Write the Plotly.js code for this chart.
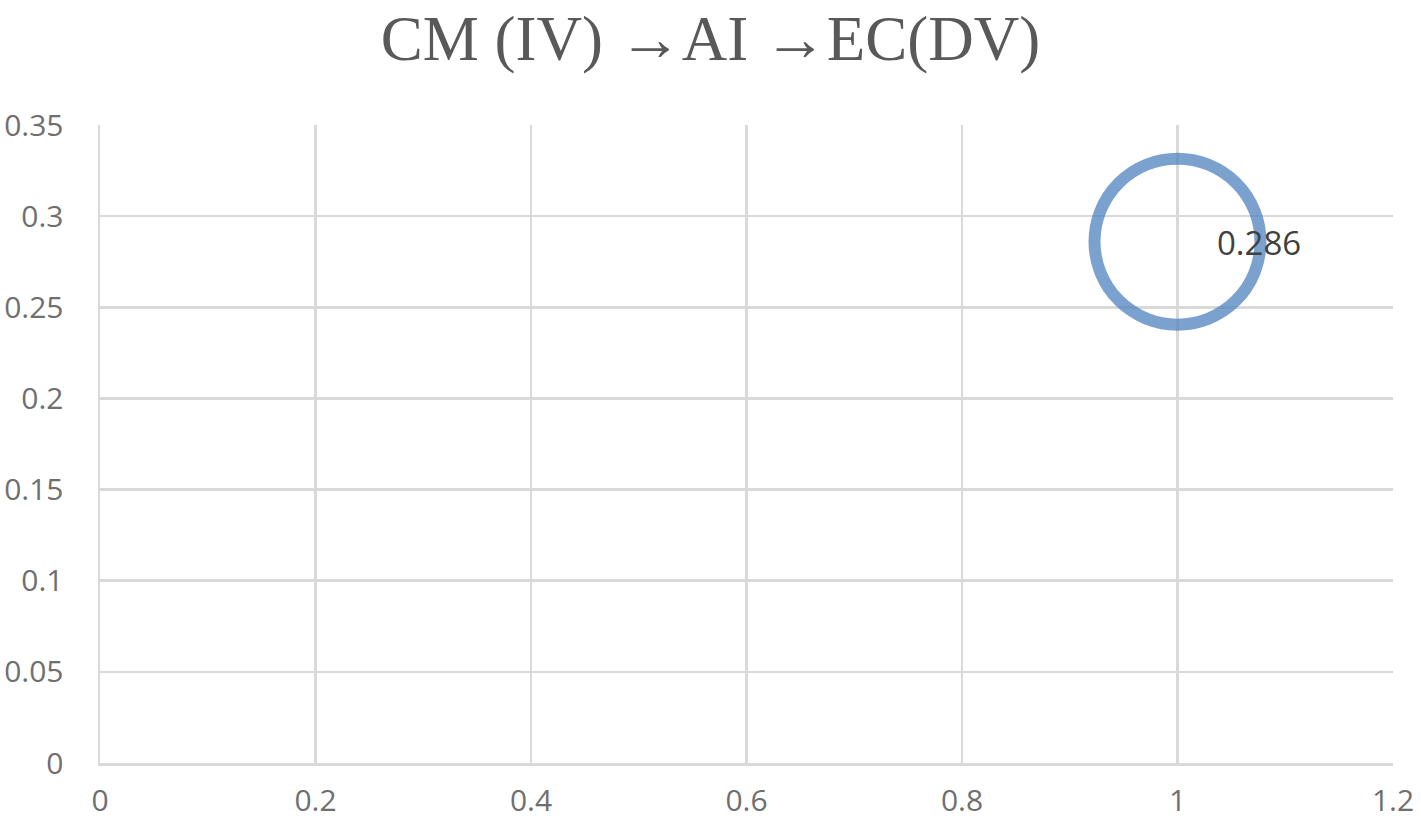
<!DOCTYPE html>
<html>
<head>
<meta charset="utf-8">
<script src="https://cdn.plot.ly/plotly-3.0.1.min.js"></script>
<style>html,body{margin:0;padding:0;background:#fff;}#chart{width:1421px;height:833px;}</style>
</head>
<body>
<div id="chart"></div>
<script>
const chartTitle = "CM (IV) \u2192AI \u2192EC(DV)";
const xValues = [1];
const yValues = [0.286];
const labels = ["0.286"];
const xTicks = [0, 0.2, 0.4, 0.6, 0.8, 1, 1.2];
const xTickText = ["0", "0.2", "0.4", "0.6", "0.8", "1", "1.2"];
const yTicks = [0, 0.05, 0.1, 0.15, 0.2, 0.25, 0.3, 0.35];
const yTickText = ["0", "0.05", "0.1", "0.15", "0.2", "0.25", "0.3", "0.35"];

const gridColor = "#d9d9d9";
const tickFont = {family: "Open Sans, sans-serif", size: 30, color: "#6f6f6f"};

const trace = {
  type: "scatter",
  mode: "markers",
  x: xValues,
  y: yValues,
  marker: {
    size: 166,
    color: "rgba(0,0,0,0)",
    line: {color: "rgba(79,129,189,0.75)", width: 12}
  },
  hoverinfo: "skip",
  cliponaxis: false
};

const layout = {
  width: 1421,
  height: 833,
  paper_bgcolor: "#fff",
  plot_bgcolor: "#fff",
  showlegend: false,
  margin: {l: 100, r: 28, t: 125, b: 70},
  title: {
    text: chartTitle,
    font: {family: "Liberation Serif, DejaVu Serif, serif", size: 63, color: "#595959"},
    x: 0.5, xanchor: "center",
    y: 0.981, yanchor: "top", yref: "container"
  },
  xaxis: {
    range: [0, 1.2],
    tickvals: xTicks,
    ticktext: xTickText,
    showgrid: true,
    gridcolor: gridColor,
    gridwidth: 2.5,
    zeroline: false,
    showline: true,
    linecolor: gridColor,
    linewidth: 2.5,
    ticks: "",
    tickfont: tickFont,
    ticklabelstandoff: 9
  },
  yaxis: {
    range: [0, 0.35],
    tickvals: yTicks,
    ticktext: yTickText,
    showgrid: true,
    gridcolor: gridColor,
    gridwidth: 2.5,
    zeroline: false,
    showline: true,
    linecolor: gridColor,
    linewidth: 2.5,
    ticks: "",
    tickfont: tickFont,
    ticklabelstandoff: 28
  },
  annotations: xValues.map((xv, i) => ({
    x: xv, y: yValues[i], xref: "x", yref: "y",
    text: labels[i], showarrow: false,
    xanchor: "left", yanchor: "middle", xshift: 37, yshift: -1,
    font: {family: "Open Sans, sans-serif", size: 33, color: "#404040"}
  }))
};

Plotly.newPlot("chart", [trace], layout, {displayModeBar: false, staticPlot: true});
</script>
</body>
</html>
